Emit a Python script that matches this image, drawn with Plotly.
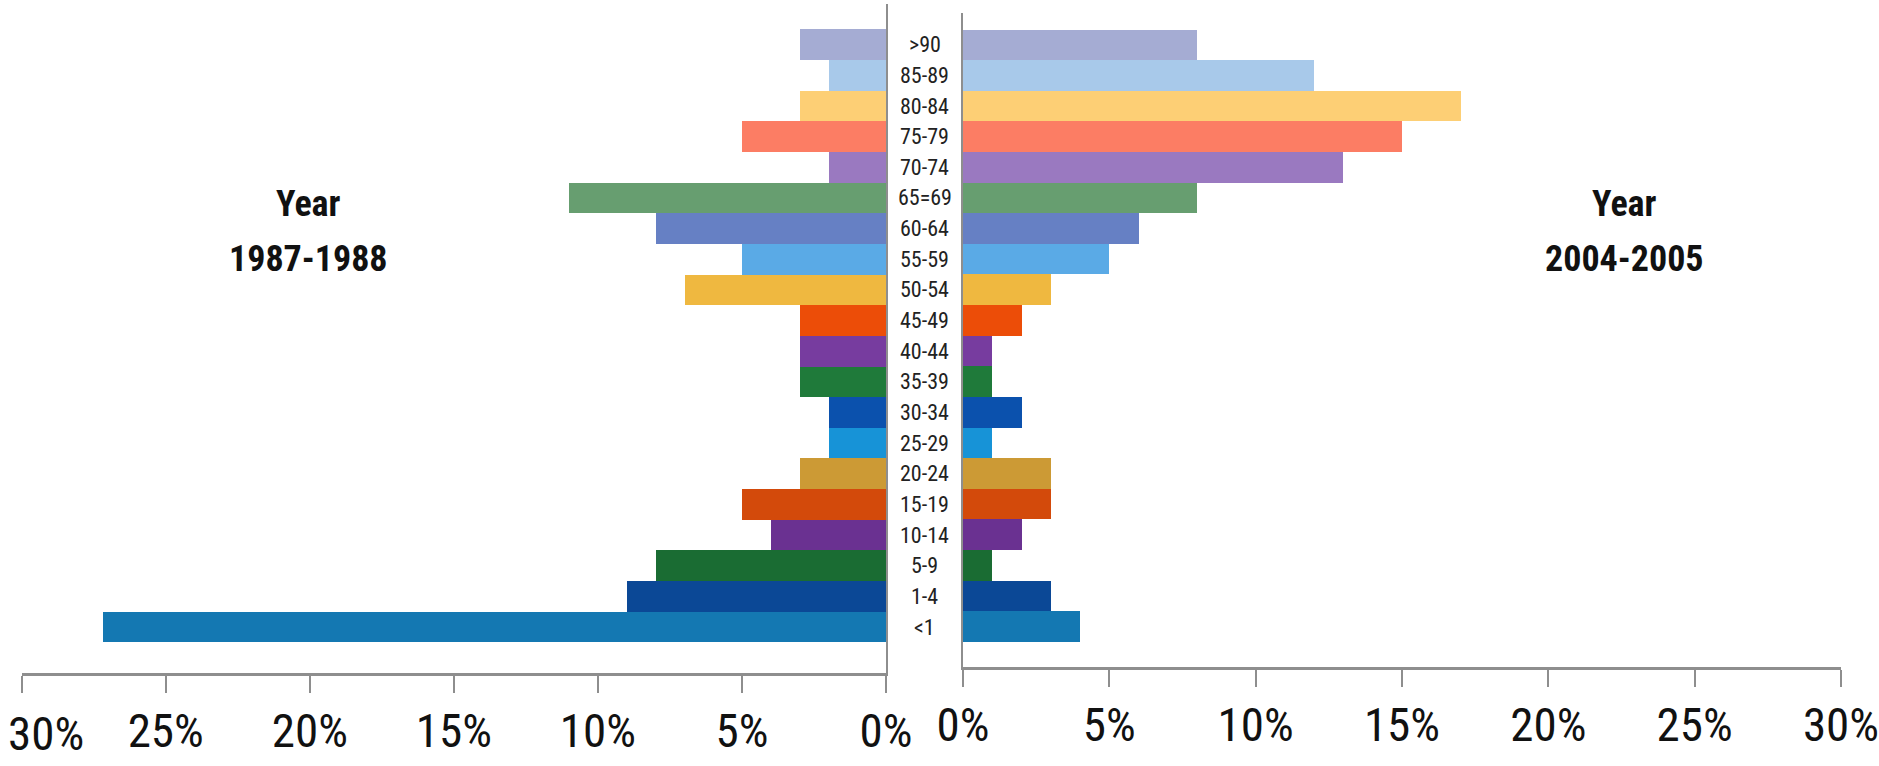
import plotly.graph_objects as go

# Age groups, bottom to top
age_groups = ["<1", "1-4", "5-9", "10-14", "15-19", "20-24", "25-29", "30-34",
              "35-39", "40-44", "45-49", "50-54", "55-59", "60-64", "65=69",
              "70-74", "75-79", "80-84", "85-89", ">90"]

# Share of cases (%) per age group
pct_1987_1988 = [27.2, 9, 8, 4, 5, 3, 2, 2, 3, 3, 3, 7, 5, 8, 11, 2, 5, 3, 2, 3]
pct_2004_2005 = [4, 3, 1, 2, 3, 3, 1, 2, 1, 1, 2, 3, 5, 6, 8, 13, 15, 17, 12, 8]

group_colors = ["#1478b2", "#0b4896", "#1a6c33", "#6a3191", "#d34a0b", "#cc9a35",
                "#1793d7", "#0b51ad", "#1f7a3a", "#773c9f", "#ec4d08", "#efb840",
                "#5aaae6", "#6680c4", "#679e70", "#9a79c0", "#fc7d64", "#fdcf75",
                "#a8c9ea", "#a5acd3"]

tick_vals = [0, 5, 10, 15, 20, 25, 30]
tick_text = ["0%", "5%", "10%", "15%", "20%", "25%", "30%"]

W, H = 1879, 766
NARROW = ("Liberation Sans Narrow, Arial Narrow, Roboto Condensed, "
          "DejaVu Sans Condensed, Liberation Sans, Arial, sans-serif")
TICK_FONT = dict(family=NARROW, size=47, color="#111111")


def px_x(p):
    return p / W


def px_y(p):
    return 1 - p / H


fig = go.Figure()

fig.add_trace(go.Bar(
    y=age_groups, x=pct_1987_1988, orientation="h",
    marker=dict(color=group_colors, line=dict(width=0)),
    xaxis="x", yaxis="y", showlegend=False,
))
fig.add_trace(go.Bar(
    y=age_groups, x=pct_2004_2005, orientation="h",
    marker=dict(color=group_colors, line=dict(width=0)),
    xaxis="x2", yaxis="y2", showlegend=False,
))

axis_gray = "#8e8e8e"
common_x = dict(
    tickvals=tick_vals, ticks="outside", ticklen=17,
    tickwidth=2, tickcolor=axis_gray, showline=True, linecolor=axis_gray,
    linewidth=3, showgrid=False, zeroline=False, automargin=False,
    ticklabeloverflow="allow", ticklabelstandoff=-2, tickfont=TICK_FONT,
)
common_y = dict(
    type="category", categoryorder="array", categoryarray=age_groups,
    showticklabels=False, ticks="", showline=True, linecolor=axis_gray,
    linewidth=2, showgrid=False, zeroline=False, automargin=False,
)

# The outermost left label is drawn separately so it stays inside the page
left_ticktext = tick_text[:-1] + [""]

fig.update_layout(
    width=W, height=H,
    margin=dict(l=0, r=0, t=0, b=0, autoexpand=False),
    paper_bgcolor="white", plot_bgcolor="white",
    bargap=0,
    xaxis=dict(domain=[px_x(21.7), px_x(886)], range=[30, 0], anchor="y",
               ticktext=left_ticktext, **common_x),
    yaxis=dict(domain=[px_y(673), px_y(4)], range=[-1.5, 20.33], anchor="x",
               side="right", **common_y),
    xaxis2=dict(domain=[px_x(963), px_x(1841)], range=[0, 30], anchor="y2",
                ticktext=tick_text, **common_x),
    yaxis2=dict(domain=[px_y(667), px_y(13)], range=[-1.32, 20.04], anchor="x2",
                side="left", **common_y),
)

fig.add_annotation(
    x=px_x(6), xref="paper", y=px_y(733), yref="paper",
    text=tick_text[-1], showarrow=False, xanchor="left", yanchor="middle",
    font=TICK_FONT,
)

# Age-group labels in the gap between the two panels
for g in age_groups:
    fig.add_annotation(
        x=px_x(924.5), xref="paper", y=g, yref="y",
        text=g, showarrow=False, xanchor="center", yanchor="middle",
        font=dict(family=NARROW, size=22, color="#222222"),
    )

# Period titles
titles = [
    (308, "Year", 204.5), (308, "1987-1988", 259),
    (1624, "Year", 204.5), (1624, "2004-2005", 259),
]
for cx, txt, cy in titles:
    fig.add_annotation(
        x=px_x(cx), xref="paper", y=px_y(cy), yref="paper",
        text="<b>" + txt + "</b>", showarrow=False,
        xanchor="center", yanchor="middle",
        font=dict(family=NARROW, size=36, color="#111111"),
    )

fig.write_html("out.html")
